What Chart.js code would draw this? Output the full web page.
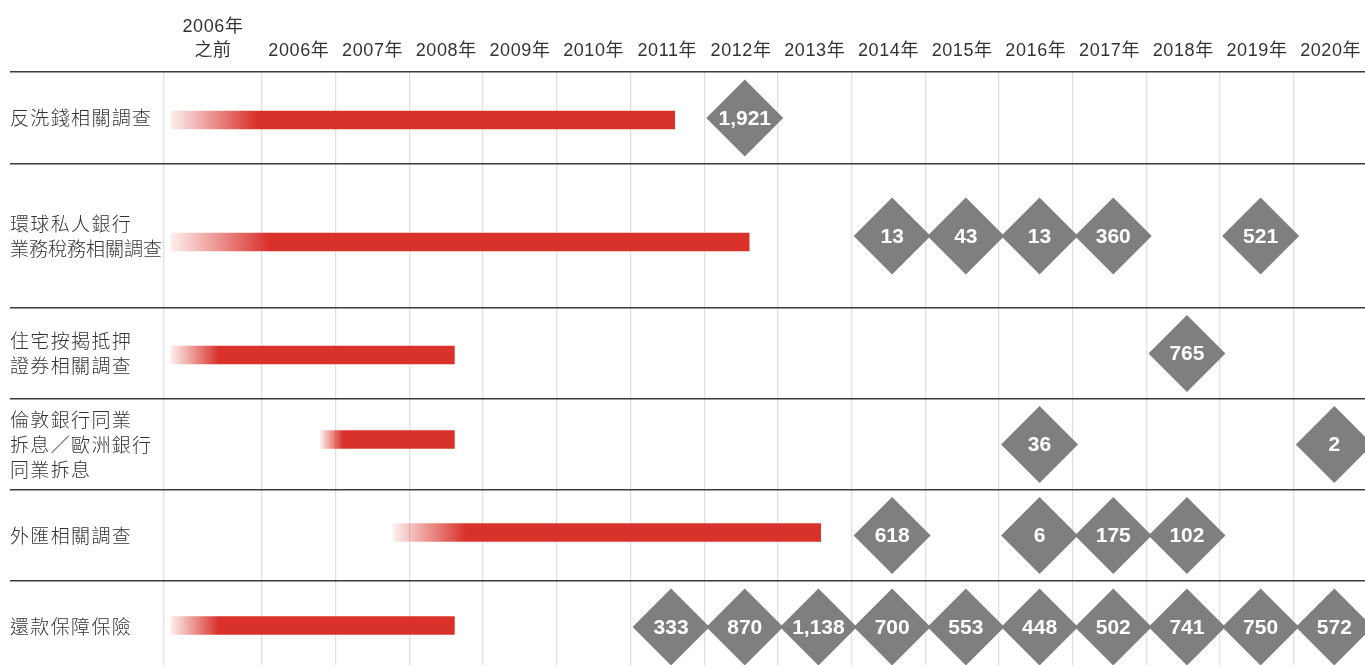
<!DOCTYPE html>
<html>
<head>
<meta charset="utf-8">
<title>罰款與調查時間表</title>
<script src="https://cdn.jsdelivr.net/npm/chart.js@4.4.1/dist/chart.umd.min.js"></script>
<style>
  html, body { margin: 0; padding: 0; background: #fff; }
  #wrap { width: 1365px; height: 665px; }
</style>
</head>
<body>
<div id="wrap"><canvas id="fines" width="1365" height="665"></canvas></div>
<script>
// row titles, top to bottom
var rowLabels = [
  ['反洗錢相關調查'],
  ['環球私人銀行', '業務稅務相關調查'],
  ['住宅按揭抵押', '證券相關調查'],
  ['倫敦銀行同業', '拆息／歐洲銀行', '同業拆息'],
  ['外匯相關調查'],
  ['還款保障保險']
];

// column headers
var yearLabels = [['2006年', '之前'], '2006年', '2007年', '2008年', '2009年', '2010年', '2011年',
  '2012年', '2013年', '2014年', '2015年', '2016年', '2017年', '2018年', '2019年', '2020年'];
var years = [2006, 2007, 2008, 2009, 2010, 2011, 2012, 2013, 2014, 2015, 2016, 2017, 2018, 2019, 2020];

// investigation periods (fractional years)
var barStart = [2004.76, 2004.76, 2004.76, 2006.79, 2007.78, 2004.76];
var barEnd = [2011.60, 2012.61, 2008.61, 2008.61, 2013.58, 2008.61];

// fines per row
var fineYears = [
  [2012],
  [2014, 2015, 2016, 2017, 2019],
  [2018],
  [2016, 2020],
  [2014, 2016, 2017, 2018],
  [2011, 2012, 2013, 2014, 2015, 2016, 2017, 2018, 2019, 2020]
];
var fineValues = [
  [1921],
  [13, 43, 13, 360, 521],
  [765],
  [36, 2],
  [618, 6, 175, 102],
  [333, 870, 1138, 700, 553, 448, 502, 741, 750, 572]
];

// layout (not data)
var RED = '217,50,43';
var GREY = '#7f7f7f';
var ROW_H = [92, 144, 91, 91, 91, 92];
var BAR_SHIFT = [2, 6, 1.5, -5, -3, -1.5];
var Y_MAX = 593;
var X_MIN = 2004.67, X_MAX = 2020.966;
var DIAMOND_SHIFT = 0.05;
var TITLE_W = 152;

var rowEdges = [0], rowMid = [];
ROW_H.forEach(function (h, i) {
  rowMid.push(rowEdges[i] + h / 2);
  rowEdges.push(rowEdges[i] + h);
});
var colEdges = [X_MIN].concat(years);
var colMid = [(X_MIN + years[0]) / 2].concat(years.map(function (y) { return y + 0.5; }));

var diamonds = [];
fineYears.forEach(function (ys, r) {
  ys.forEach(function (yr, j) {
    diamonds.push({ x: yr + 0.5 + DIAMOND_SHIFT, y: rowMid[r], v: fineValues[r][j] });
  });
});
var bars = barStart.map(function (s, i) {
  return { x: [s, barEnd[i]], y: rowMid[i] + BAR_SHIFT[i] };
});

function barFill(ctx) {
  var chart = ctx.chart;
  if (!chart.chartArea || ctx.type !== 'data') return 'rgb(' + RED + ')';
  var xs = chart.scales.x;
  var x0 = xs.getPixelForValue(ctx.raw.x[0]);
  var x1 = xs.getPixelForValue(ctx.raw.x[1]);
  var g = chart.ctx.createLinearGradient(x0, 0, x1, 0);
  g.addColorStop(0, 'rgba(' + RED + ',0.08)');
  g.addColorStop(0.17, 'rgba(' + RED + ',1)');
  g.addColorStop(1, 'rgba(' + RED + ',1)');
  return g;
}

function setTicks(values) {
  return function (axis) {
    axis.ticks = values.filter(function (v) { return v <= axis.max; })
      .map(function (v) { return { value: v }; });
  };
}
function noPad(axis) {
  axis.paddingLeft = axis.paddingRight = axis.paddingTop = axis.paddingBottom = 0;
}

// numbers inside the diamonds and the row titles (tracked out, but kept inside the label column)
var textLayer = {
  id: 'textLayer',
  beforeDraw: function (chart) {
    chart.ctx.letterSpacing = '0.6px';
  },
  afterDatasetsDraw: function (chart) {
    var meta = chart.getDatasetMeta(0);
    var c = chart.ctx;
    c.save();
    c.letterSpacing = '0px';
    c.fillStyle = '#fff';
    c.font = 'bold 21px "Liberation Sans", Arial, sans-serif';
    c.textAlign = 'center';
    c.textBaseline = 'middle';
    meta.data.forEach(function (pt, i) {
      c.fillText(diamonds[i].v.toLocaleString('en-US'), pt.x, pt.y + 1);
    });
    c.restore();
  },
  afterDraw: function (chart) {
    var c = chart.ctx;
    var ys = chart.scales.y;
    c.save();
    c.font = '300 19px "Noto Sans CJK TC", sans-serif';
    c.fillStyle = '#333';
    c.textAlign = 'left';
    c.textBaseline = 'middle';
    rowLabels.forEach(function (lines, r) {
      var yc = ys.getPixelForValue(rowMid[r]);
      lines.forEach(function (t, k) {
        c.letterSpacing = '0px';
        var w = c.measureText(t).width;
        var sp = Math.max(0, Math.min(1.35, (TITLE_W - w) / t.length));
        c.letterSpacing = sp + 'px';
        c.fillText(t, ys.left, yc + (k - (lines.length - 1) / 2) * 25);
      });
    });
    c.restore();
    c.letterSpacing = '0px';
  }
};

new Chart(document.getElementById('fines').getContext('2d'), {
  type: 'bar',
  data: {
    datasets: [{
      type: 'scatter',
      data: diamonds,
      xAxisID: 'x',
      yAxisID: 'y',
      pointStyle: 'rectRot',
      pointRadius: 38.5,
      pointHoverRadius: 38.5,
      backgroundColor: GREY,
      borderWidth: 0
    }, {
      type: 'bar',
      indexAxis: 'y',
      data: bars,
      xAxisID: 'x',
      yAxisID: 'y',
      barThickness: 18,
      backgroundColor: barFill,
      borderWidth: 0
    }]
  },
  options: {
    responsive: false,
    devicePixelRatio: 1,
    animation: false,
    events: [],
    layout: { autoPadding: false, padding: { left: 10, top: 0, right: 0, bottom: 0 } },
    plugins: { legend: { display: false }, tooltip: { enabled: false } },
    scales: {
      x: {
        type: 'linear', position: 'top', min: X_MIN, max: X_MAX,
        offset: false, beginAtZero: false,
        grid: { display: false, offset: false }, border: { display: false },
        afterBuildTicks: setTicks(colMid),
        afterFit: function (axis) { axis.height = 72; noPad(axis); },
        ticks: {
          autoSkip: false, maxRotation: 0, padding: 1, color: '#333',
          font: { family: '"Liberation Sans", "Noto Sans CJK TC", sans-serif', size: 18, lineHeight: '24px' },
          callback: function (v, i) { return yearLabels[i]; }
        }
      },
      xg: {
        type: 'linear', position: 'bottom', min: X_MIN, max: X_MAX,
        offset: false, beginAtZero: false,
        afterBuildTicks: setTicks(colEdges),
        afterFit: function (axis) { axis.height = 0; noPad(axis); },
        ticks: { display: false },
        grid: { color: '#e0e0e0', lineWidth: 1.3, drawTicks: false, offset: false },
        border: { display: false }
      },
      y: {
        type: 'linear', position: 'left', reverse: true, min: 0, max: Y_MAX, weight: 1,
        offset: false, beginAtZero: false,
        grid: { display: false, offset: false }, border: { display: false },
        afterBuildTicks: setTicks(rowMid),
        afterFit: function (axis) { axis.width = 154; noPad(axis); },
        ticks: { display: false }
      },
      yb: {
        type: 'linear', position: 'left', reverse: true, min: 0, max: Y_MAX, weight: 0,
        offset: false, beginAtZero: false,
        afterBuildTicks: setTicks(rowEdges),
        afterFit: function (axis) { axis.width = 0; noPad(axis); },
        ticks: { display: false },
        grid: { color: '#3a3a3a', lineWidth: 1.5, drawTicks: true, tickLength: 154, offset: false },
        border: { display: false }
      }
    }
  },
  plugins: [textLayer]
});
</script>
</body>
</html>
